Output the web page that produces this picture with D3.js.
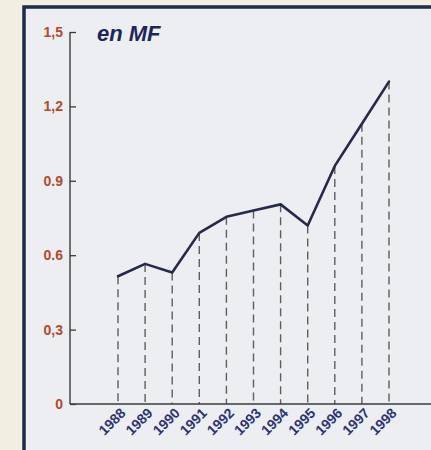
<!DOCTYPE html>
<html><head><meta charset="utf-8">
<script src="https://cdn.jsdelivr.net/npm/d3@7"></script>
<style>html,body{margin:0;padding:0;background:#f2efe2;}svg{display:block;}</style>
</head><body>
<svg id="c" width="431" height="450"></svg>
<script>
const years = ["1988","1989","1990","1991","1992","1993","1994","1995","1996","1997","1998"];
const values = [0.515, 0.565, 0.53, 0.69, 0.755, 0.78, 0.805, 0.72, 0.96, 1.13, 1.30];
const yTicks = [0, 0.3, 0.6, 0.9, 1.2, 1.5];
const yTickLabels = ["0", "0,3", "0.6", "0.9", "1,2", "1,5"];
const unitLabel = "en MF";

const svg = d3.select("#c");
// frame
svg.append("rect").attr("x",24).attr("y",7).attr("width",420).attr("height",460)
  .attr("fill","#eceef1").attr("stroke","#1f2a4c").attr("stroke-width",3.5);

const x = d3.scalePoint().domain(years).range([118, 389]);
const y = d3.scaleLinear().domain([0, 1.5]).range([404, 32]);

// dashed drops
svg.append("g").selectAll("line").data(years).join("line")
  .attr("x1", d => x(d)).attr("x2", d => x(d))
  .attr("y1", (d,i) => y(values[i])).attr("y2", y(0))
  .attr("stroke","#5e5e5e").attr("stroke-width",1.4).attr("stroke-dasharray","8,5");

// y axis
const yAxis = d3.axisRight(y).tickValues(yTicks).tickSize(6).tickFormat("");
const ya = svg.append("g").attr("transform","translate(70,0)").call(yAxis);
ya.select(".domain").remove();
ya.selectAll(".tick line").attr("stroke","#3a3a3a").attr("stroke-width",1.3);
svg.append("line").attr("x1",70).attr("x2",70).attr("y1",y(1.5)).attr("y2",y(0))
  .attr("stroke","#3a3a3a").attr("stroke-width",1.4);
svg.append("g").selectAll("text").data(yTicks).join("text")
  .attr("x",63).attr("y", d => y(d)+5).attr("text-anchor","end")
  .attr("font-family","Liberation Sans, Arial, sans-serif").attr("font-weight","bold")
  .attr("font-size",14).attr("fill","#b14a2f")
  .text((d,i) => yTickLabels[i]);

// x baseline
svg.append("line").attr("x1",70).attr("x2",431).attr("y1",y(0)).attr("y2",y(0))
  .attr("stroke","#3a3a3a").attr("stroke-width",1.4);

// year labels
const xAxis = d3.axisBottom(x).tickSize(0).tickPadding(0);
const xa = svg.append("g").attr("transform",`translate(0,${y(0)})`).call(xAxis);
xa.select(".domain").remove();
xa.selectAll(".tick text")
  .attr("font-family","Liberation Sans, Arial, sans-serif").attr("font-weight","bold")
  .attr("font-size",14).attr("fill","#2f3372")
  .attr("text-anchor","end").attr("dy",0).attr("y",0)
  .attr("transform","translate(8,10) rotate(-45)");

// line
svg.append("path").datum(values)
  .attr("d", d3.line().x((d,i) => x(years[i])).y(d => y(d)))
  .attr("fill","none").attr("stroke","#262a4a").attr("stroke-width",2.6)
  .attr("stroke-linejoin","round").attr("stroke-linecap","round");

// unit label
svg.append("text").attr("x",97).attr("y",41).text(unitLabel)
  .attr("font-family","Liberation Sans, Arial, sans-serif").attr("font-weight","bold")
  .attr("font-style","italic").attr("font-size",22).attr("fill","#1e2657");
</script>
</body></html>
